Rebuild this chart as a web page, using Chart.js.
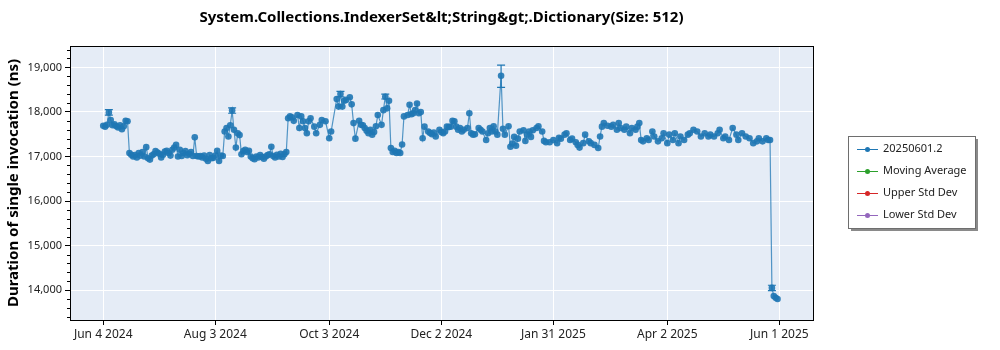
<!DOCTYPE html>
<html><head><meta charset="utf-8">
<script src="https://cdn.jsdelivr.net/npm/chart.js@4.4.1/dist/chart.umd.min.js"></script>
<style>html,body{margin:0;padding:0;background:#fff;}#wrap{width:1000px;height:350px;position:relative;}</style>
</head><body><div id="wrap"><canvas id="c" width="1000" height="350"></canvas></div>
<script>
const chartTitle = 'System.Collections.IndexerSet&lt;String&gt;.Dictionary(Size: 512)';
const yAxisTitle = 'Duration of single invocation (ns)';
const startDate = 'Jun 4 2024';
const tickDays = [0, 60, 121, 181, 241, 302, 362];
const tickLabels = ['Jun 4 2024', 'Aug 3 2024', 'Oct 3 2024', 'Dec 2 2024', 'Jan 31 2025', 'Apr 2 2025', 'Jun 1 2025'];
const yTicks = [14000, 15000, 16000, 17000, 18000, 19000];
const seriesNames = ['20250601.2', 'Moving Average', 'Upper Std Dev', 'Lower Std Dev'];
const seriesColors = ['#1f77b4', '#2ca02c', '#d62728', '#9467bd'];

const dayOffsets = [0,1,2,3,4,5,6,7,8,9,10,11,12,13,14,15,16,17,18,19,20,21,22,23,24,25,26,27,28,29,30,31,32,33,34,35,36,37,38,39,40,41,42,43,44,45,46,47,48,49,50,51,52,53,54,55,56,57,58,59,60,61,62,63,64,65,66,67,68,69,70,71,72,73,74,75,76,77,78,79,80,81,82,83,84,85,86,87,88,89,90,91,92,93,94,95,96,97,98,99,100,101,102,104,105,106,107,108,109,110,111,113,114,116,117,119,121,122,125,126,127,128,129,130,132,133,134,135,137,138,139,140,141,142,143,144,145,146,147,149,150,151,152,153,154,155,156,157,158,159,160,161,163,164,165,166,167,168,169,170,171,172,174,175,176,177,178,180,181,182,183,184,185,186,187,188,189,190,191,192,193,195,196,197,198,199,201,202,203,205,206,207,208,209,210,211,213,214,215,217,218,219,220,221,222,223,225,226,227,228,229,230,232,233,235,236,237,239,241,243,244,245,247,248,250,251,253,254,255,257,258,260,261,263,265,266,267,268,270,272,273,275,276,277,279,280,282,283,285,286,287,288,289,291,292,294,295,297,299,300,302,303,305,306,308,309,311,313,314,316,318,320,322,324,325,327,329,330,332,333,335,337,339,340,342,344,346,348,350,351,353,355,356,357,358,359,360,361];
const durations = [17690,17670,17710,17990,17820,17700,17720,17680,17650,17700,17610,17680,17800,17790,17080,17040,17000,17030,16980,17080,17020,17100,17000,17210,16960,16930,17020,17050,17120,17090,17060,16980,17040,17110,17130,17080,17020,17150,17200,17260,17000,17150,17010,17080,17120,17030,17060,17100,17010,17430,17010,17000,17010,16980,17020,16950,16900,17030,16960,16970,17020,17130,16900,17020,17010,17560,17640,17450,17700,18030,17600,17200,17520,17480,17050,17120,17150,17100,17130,17000,16960,16940,17000,16980,17030,16990,16950,17000,17030,17050,17220,17010,16980,17040,17000,17060,16990,17050,17100,17860,17900,17880,17800,17930,17640,17900,17790,17640,17520,17790,17860,17670,17520,17710,17820,17790,17410,17560,18290,18120,18400,18120,18250,18270,18330,18170,17750,17400,17800,17710,17700,17640,17580,17520,17600,17490,17550,17680,17930,17710,18040,18340,18080,18250,17190,17100,17130,17080,17100,17080,17270,17900,17930,18160,17950,17970,18040,18190,17970,18000,17410,17670,17560,17530,17500,17540,17450,17600,17550,17520,17560,17670,17660,17670,17800,17790,17670,17600,17640,17560,17600,17640,17970,17520,17490,17500,17640,17600,17560,17370,17520,17640,17560,17680,17560,17490,18810,17620,17490,17680,17220,17290,17440,17240,17400,17560,17590,17350,17490,17560,17440,17590,17640,17680,17560,17350,17320,17320,17370,17300,17420,17400,17490,17520,17370,17400,17320,17260,17200,17300,17490,17340,17300,17260,17190,17450,17670,17750,17690,17670,17710,17600,17750,17640,17600,17670,17520,17640,17600,17670,17750,17370,17340,17410,17370,17560,17450,17340,17410,17520,17300,17490,17370,17520,17300,17450,17370,17490,17520,17600,17560,17450,17520,17450,17490,17450,17520,17600,17410,17450,17370,17640,17490,17370,17520,17450,17410,17300,17340,17410,17340,17410,17370,17370,14050,13870,13830,13800];

const errDays = [3, 69, 127, 151, 213, 358];
const errLow = [17930, 17970, 18340, 18290, 18550, 13990];
const errHigh = [18050, 18090, 18460, 18400, 19050, 14110];

const FONT = "'Noto Sans', 'DejaVu Sans', sans-serif";

const bgPlugin = {
  id: 'bg',
  beforeDraw(chart) {
    const {ctx, chartArea: a} = chart;
    ctx.save();
    ctx.fillStyle = '#E5ECF6';
    ctx.fillRect(a.left, a.top, a.right - a.left, a.bottom - a.top);
    ctx.restore();
  }
};

const decoPlugin = {
  id: 'deco',
  afterDatasetsDraw(chart) {
    const {ctx} = chart;
    const xs = chart.scales.x, ys = chart.scales.y;
    ctx.save();
    ctx.strokeStyle = seriesColors[0];
    ctx.lineWidth = 1.2;
    for (let i = 0; i < errDays.length; i++) {
      const x = xs.getPixelForValue(errDays[i]);
      const y1 = ys.getPixelForValue(errLow[i]);
      const y2 = ys.getPixelForValue(errHigh[i]);
      ctx.beginPath();
      ctx.moveTo(x, y1); ctx.lineTo(x, y2);
      ctx.moveTo(x - 4, y1); ctx.lineTo(x + 4, y1);
      ctx.moveTo(x - 4, y2); ctx.lineTo(x + 4, y2);
      ctx.stroke();
    }
    ctx.restore();
  },
  afterDraw(chart) {
    const {ctx, chartArea: a} = chart;
    const ys = chart.scales.y;
    ctx.save();
    ctx.strokeStyle = '#000';
    ctx.lineWidth = 1;
    ctx.strokeRect(Math.round(a.left) + 0.5, Math.round(a.top) + 0.5, Math.round(a.right - a.left), Math.round(a.bottom - a.top));
    ctx.beginPath();
    for (let v = Math.ceil(ys.min / 200) * 200; v <= ys.max; v += 200) {
      if (v % 1000 === 0) continue;
      const y = Math.round(ys.getPixelForValue(v)) + 0.5;
      ctx.moveTo(a.left - 3, y); ctx.lineTo(a.left, y);
    }
    ctx.stroke();
    ctx.fillStyle = '#000';
    ctx.font = 'bold 15px ' + FONT;
    ctx.textAlign = 'center';
    ctx.textBaseline = 'middle';
    ctx.fillText(chartTitle, (a.left + a.right) / 2, 18);
    const lx = 848, ly = 136, lw = 127, lh = 92;
    ctx.fillStyle = '#8a8a8a';
    ctx.fillRect(lx + 3, ly + 3, lw, lh);
    ctx.fillStyle = '#fff';
    ctx.fillRect(lx, ly, lw, lh);
    ctx.strokeStyle = '#6e6e6e';
    ctx.strokeRect(lx + 0.5, ly + 0.5, lw, lh);
    ctx.font = '11px ' + FONT;
    ctx.textAlign = 'left';
    for (let i = 0; i < seriesNames.length; i++) {
      const y = ly + 13 + i * 22;
      ctx.strokeStyle = seriesColors[i];
      ctx.lineWidth = 1;
      ctx.beginPath();
      ctx.moveTo(lx + 9, y + 0.5); ctx.lineTo(lx + 30, y + 0.5);
      ctx.stroke();
      ctx.fillStyle = seriesColors[i];
      ctx.beginPath();
      ctx.arc(lx + 19.5, y + 0.5, 2.5, 0, Math.PI * 2);
      ctx.fill();
      ctx.fillStyle = '#222';
      ctx.fillText(seriesNames[i], lx + 35, y);
    }
    ctx.restore();
  }
};

const mainData = dayOffsets.map((d, i) => ({x: d, y: durations[i]}));

new Chart(document.getElementById('c'), {
  type: 'line',
  data: {
    datasets: [
      {label: seriesNames[0], data: mainData, borderColor: 'rgba(31,119,180,0.75)', backgroundColor: '#1f77b4',
       borderWidth: 1.2, pointRadius: 3.3, pointBorderWidth: 0, pointBackgroundColor: 'rgba(31,119,180,0.9)', tension: 0},
      {label: seriesNames[1], data: [], borderColor: seriesColors[1]},
      {label: seriesNames[2], data: [], borderColor: seriesColors[2]},
      {label: seriesNames[3], data: [], borderColor: seriesColors[3]}
    ]
  },
  options: {
    responsive: false,
    animation: false,
    devicePixelRatio: 1,
    layout: {padding: {top: 46, right: 187, left: 0, bottom: 0}},
    plugins: {legend: {display: false}, title: {display: false}, tooltip: {enabled: false}},
    scales: {
      x: {
        type: 'linear', min: -17.8, max: 380,
        afterBuildTicks: s => { s.ticks = tickDays.map(v => ({value: v})); },
        afterFit: s => { s.height = 30; },
        ticks: {callback: (v, i) => tickLabels[i], autoSkip: false, maxRotation: 0, color: '#222', font: {family: FONT, size: 12}, padding: 2},
        grid: {color: '#ffffff', lineWidth: 1, tickColor: '#000', tickLength: 5, drawOnChartArea: true},
        border: {display: true, color: '#000', width: 1}
      },
      y: {
        min: 13330, max: 19480,
        afterBuildTicks: s => { s.ticks = yTicks.map(v => ({value: v})); },
        afterFit: s => { s.width = 70; },
        ticks: {callback: v => v.toLocaleString('en-US'), autoSkip: false, color: '#222', font: {family: FONT, size: 11}, padding: 3},
        grid: {color: '#ffffff', lineWidth: 1, tickColor: '#000', tickLength: 5, drawOnChartArea: true},
        border: {display: true, color: '#000', width: 1},
        title: {display: true, text: yAxisTitle, color: '#000', font: {family: FONT, size: 15, weight: 'bold'}, padding: {top: 5, bottom: 0}}
      }
    }
  },
  plugins: [bgPlugin, decoPlugin]
});
</script></body></html>
